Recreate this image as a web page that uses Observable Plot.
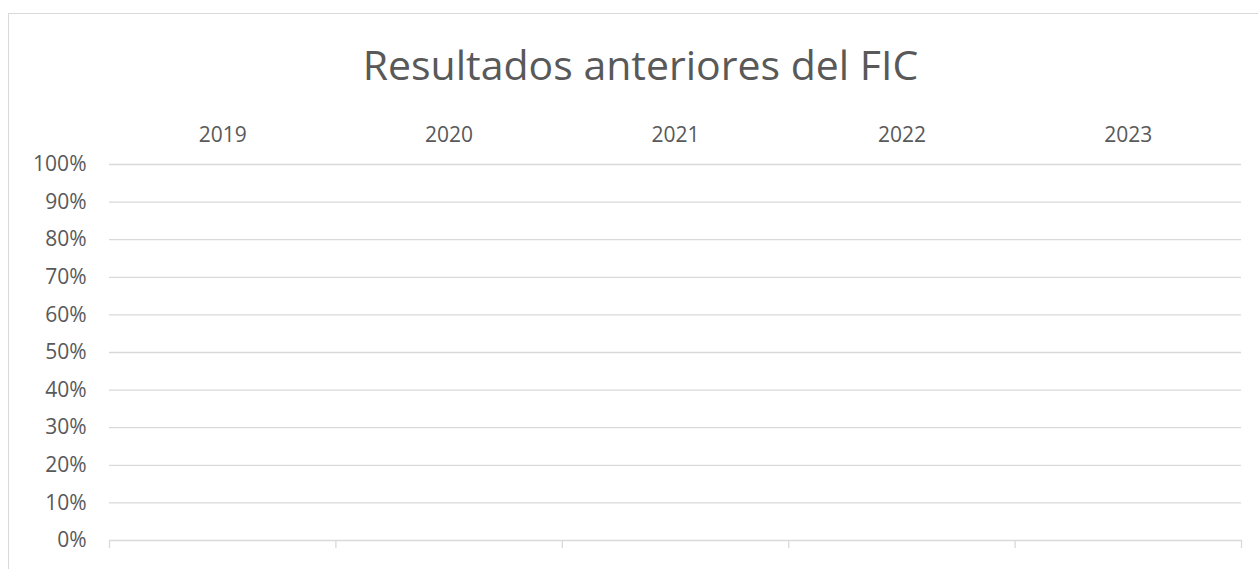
<!DOCTYPE html>
<html>
<head>
<meta charset="utf-8">
<script src="https://cdn.jsdelivr.net/npm/d3@7"></script>
<script src="https://cdn.jsdelivr.net/npm/@observablehq/plot@0.6"></script>
<style>
  html, body { margin: 0; padding: 0; background: #fff; overflow: hidden; }
  body { width: 1258px; height: 569px; position: relative; font-family: "Open Sans", sans-serif; }
  #box { position: absolute; left: 8px; top: 13px; width: 1264px; height: 600px; border: 1px solid #d9d9d9; box-sizing: border-box; }
  #title { position: absolute; left: 0; width: 1281px; top: 44px; text-align: center; font-size: 41px; color: #595959; line-height: 1; white-space: nowrap; }
  #chart { position: absolute; left: 0; top: 100px; }
</style>
</head>
<body>
<div id="box"></div>
<div id="title">Resultados anteriores del FIC</div>
<div id="chart"></div>
<script>
const title = "Resultados anteriores del FIC";
const years = ["2019", "2020", "2021", "2022", "2023"];
const yTicks = [0, 0.1, 0.2, 0.3, 0.4, 0.5, 0.6, 0.7, 0.8, 0.9, 1.0];

const labelColor = "#595959";
const gridColor = "#d9d9d9";

const plot = Plot.plot({
  width: 1258,
  height: 460,
  marginLeft: 109,
  marginRight: 17,
  marginTop: 64,
  marginBottom: 20,
  style: { fontFamily: "Open Sans, sans-serif", fontSize: "21px", color: labelColor, background: "transparent" },
  x: { domain: [0, years.length] },
  y: { domain: [0, 1] },
  marks: [
    Plot.gridY(yTicks, { stroke: gridColor, strokeOpacity: 1, strokeWidth: 1.3 }),
    Plot.axisY(yTicks, {
      tickSize: 0, tickPadding: 23, fill: labelColor,
      tickFormat: d => Math.round(d * 100) + "%", label: null
    }),
    Plot.axisX(years.map((d, i) => i + 0.5), {
      anchor: "top", tickSize: 0, tickPadding: 23, fill: labelColor,
      tickFormat: d => years[Math.floor(d)], label: null
    }),
    Plot.axisX(d3.range(years.length + 1), {
      anchor: "bottom", tickSize: 8, stroke: gridColor, strokeOpacity: 1, strokeWidth: 1.3,
      text: null, label: null
    })
  ]
});
document.getElementById("chart").appendChild(plot);
</script>
</body>
</html>
